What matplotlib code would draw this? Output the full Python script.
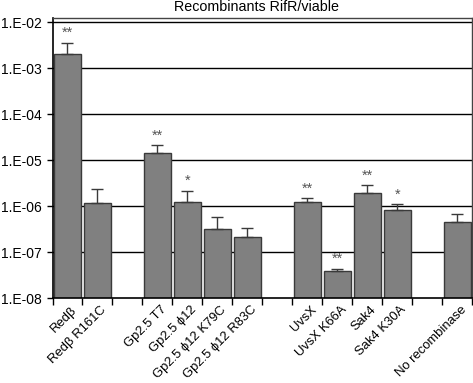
import numpy as np
import matplotlib
matplotlib.use("Agg")
from matplotlib import pyplot as plt

plt.rcParams['font.family'] = ['Liberation Sans', 'DejaVu Sans']

# categories, with empty slots kept as gaps between groups
labels = ["Redβ", "Redβ R161C", "",
          "Gp2.5 T7", "Gp2.5 ϕ12", "Gp2.5 ϕ12 K79C", "Gp2.5 ϕ12 R83C", "",
          "UvsX", "UvsX K66A", "Sak4", "Sak4 K30A", "",
          "No recombinase"]
values = [2.1e-3, 1.18e-6, None,
          1.46e-5, 1.22e-6, 3.26e-7, 2.15e-7, None,
          1.22e-6, 4.0e-8, 1.95e-6, 8.5e-7, None,
          4.5e-7]
err_top = [3.56e-3, 2.4e-6, None,
           2.15e-5, 2.2e-6, 5.76e-7, 3.4e-7, None,
           1.49e-6, 4.4e-8, 2.9e-6, 1.1e-6, None,
           6.8e-7]
stars = ["**", "", "",
         "**", "*", "", "", "",
         "**", "**", "**", "*", "",
         ""]
ytick_vals = [1e-8, 1e-7, 1e-6, 1e-5, 1e-4, 1e-3, 1e-2]
ytick_labels = ["1.E-08", "1.E-07", "1.E-06", "1.E-05", "1.E-04", "1.E-03", "1.E-02"]

fig = plt.figure(figsize=(4.73, 3.83), dpi=100)
ax = fig.add_axes([0.111, 0.221, 0.887, 0.731])

idx = [i for i, v in enumerate(values) if v is not None]
x = np.array(idx, dtype=float)
vals = np.array([values[i] for i in idx])
tops = np.array([err_top[i] for i in idx])

ax.set_yscale("log")
ax.set_ylim(1e-8, 1.22e-2)
ax.set_xlim(-0.5, len(labels) - 0.5)

for yv in ytick_vals[1:]:
    ax.axhline(yv, color="black", lw=1, zorder=1)

ax.bar(x, vals, width=0.9, color="#808080", edgecolor="#3a3a3a", lw=1, zorder=2)
ax.errorbar(x, vals, yerr=[np.zeros_like(vals), tops - vals], fmt="none",
            ecolor="#3a3a3a", elinewidth=1, capsize=4, capthick=1, zorder=3)

for i in idx:
    if stars[i]:
        ax.annotate(stars[i], (i, err_top[i]), xytext=(0, 2), textcoords="offset points",
                    ha="center", va="bottom", fontsize=10.5, color="#555555")

ax.set_yticks(ytick_vals)
ax.set_yticklabels(ytick_labels, fontsize=10)
ax.minorticks_off()
ax.tick_params(axis="y", length=4, width=1)

# ticks at slot boundaries, labels at bar centres
ax.set_xticks(np.arange(-0.5, len(labels) - 0.5 + 0.01, 1.0))
ax.set_xticklabels([])
ax.tick_params(axis="x", length=5, width=1)
for i in idx:
    ax.text(i + 0.1, 10 ** (-8.12), labels[i], rotation=45, ha="right", va="top",
            rotation_mode="anchor", fontsize=9.4, clip_on=False)

for s in ["left", "bottom"]:
    ax.spines[s].set_color("black")
    ax.spines[s].set_linewidth(1.2)
for s in ["top", "right"]:
    ax.spines[s].set_color("#444444")
    ax.spines[s].set_linewidth(1)

fig.text(0.542, 0.982, "Recombinants RifR/viable", ha="center", va="center", fontsize=10.3)

fig.savefig("out.png", dpi=100)
